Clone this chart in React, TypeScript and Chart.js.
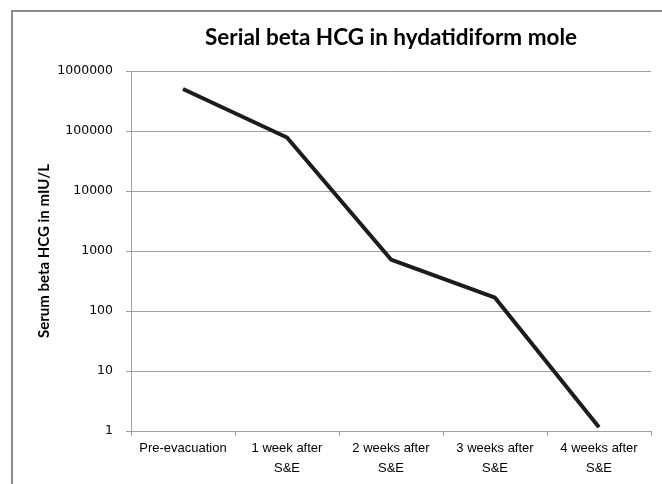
import React, { useEffect, useRef } from "react";
import { Chart, registerables } from "chart.js";

Chart.register(...registerables);

const categories: string[][] = [
  ["Pre-evacuation"],
  ["1 week after", "S&E"],
  ["2 weeks after", "S&E"],
  ["3 weeks after", "S&E"],
  ["4 weeks after", "S&E"],
];
const hcgValues: number[] = [500000, 78000, 720, 167, 1.15];
const yTickValues: number[] = [1, 10, 100, 1000, 10000, 100000, 1000000];
const chartTitle = "Serial beta HCG in hydatidiform mole";
const yAxisTitle = "Serum beta HCG in mIU/L";

const GRID = "#a0a0a0";

export default function App() {
  const ref = useRef<HTMLCanvasElement | null>(null);

  useEffect(() => {
    if (!ref.current) return;
    const chart = new Chart(ref.current, {
      type: "line",
      data: {
        labels: categories,
        datasets: [
          {
            data: hcgValues,
            borderColor: "#1c1c1c",
            borderWidth: 4,
            pointRadius: 0,
            pointHoverRadius: 0,
            borderJoinStyle: "round",
            borderCapStyle: "butt",
            tension: 0,
            fill: false,
          },
        ],
      },
      options: {
        animation: false,
        responsive: false,
        devicePixelRatio: 1,
        layout: { padding: { left: 30, right: 11, top: 10, bottom: 0 } },
        plugins: {
          legend: { display: false },
          tooltip: { enabled: false },
          title: {
            display: true,
            text: chartTitle,
            fullSize: false,
            color: "#000",
            font: { family: "Lato", weight: "bold", size: 22.5 },
            padding: { top: 14, bottom: 20 },
          },
        },
        scales: {
          x: {
            type: "category",
            offset: true,
            grid: {
              offset: true,
              drawOnChartArea: false,
              drawTicks: true,
              tickLength: 5,
              color: GRID,
            },
            border: { color: GRID, width: 1 },
            ticks: {
              font: { family: "Liberation Sans", size: 13, lineHeight: 1.54 },
              color: "#000",
              padding: 2,
              maxRotation: 0,
              minRotation: 0,
              autoSkip: false,
            },
            afterFit: (s: any) => {
              s.height = 53;
            },
          },
          y: {
            type: "logarithmic",
            min: 1,
            max: 1000000,
            afterBuildTicks: (s: any) => {
              s.ticks = yTickValues.map((v) => ({ value: v }));
            },
            grid: { color: GRID, tickLength: 5 },
            border: { color: GRID, width: 1 },
            ticks: {
              font: { family: "DejaVu Sans", size: 12.5 },
              color: "#000",
              padding: 13,
              callback: (v: any) => String(v),
            },
            title: {
              display: true,
              text: yAxisTitle,
              color: "#000",
              font: { family: "Lato", weight: "bold", size: 15 },
              padding: { top: 5, bottom: 0 },
            },
            afterFit: (s: any) => {
              s.width = 101;
            },
          },
        },
      },
    });
    return () => chart.destroy();
  }, []);

  return (
    <div
      style={{
        position: "absolute",
        left: 0,
        top: 0,
        width: 662,
        height: 484,
        overflow: "hidden",
        background: "#fff",
      }}
    >
      <div
        style={{
          position: "absolute",
          left: 11,
          top: 10,
          width: 800,
          height: 700,
          border: "2px solid #8c8c8c",
          boxSizing: "border-box",
        }}
      />
      <canvas
        ref={ref}
        width={662}
        height={484}
        style={{ position: "absolute", left: 0, top: 0, width: 662, height: 484 }}
      />
    </div>
  );
}
